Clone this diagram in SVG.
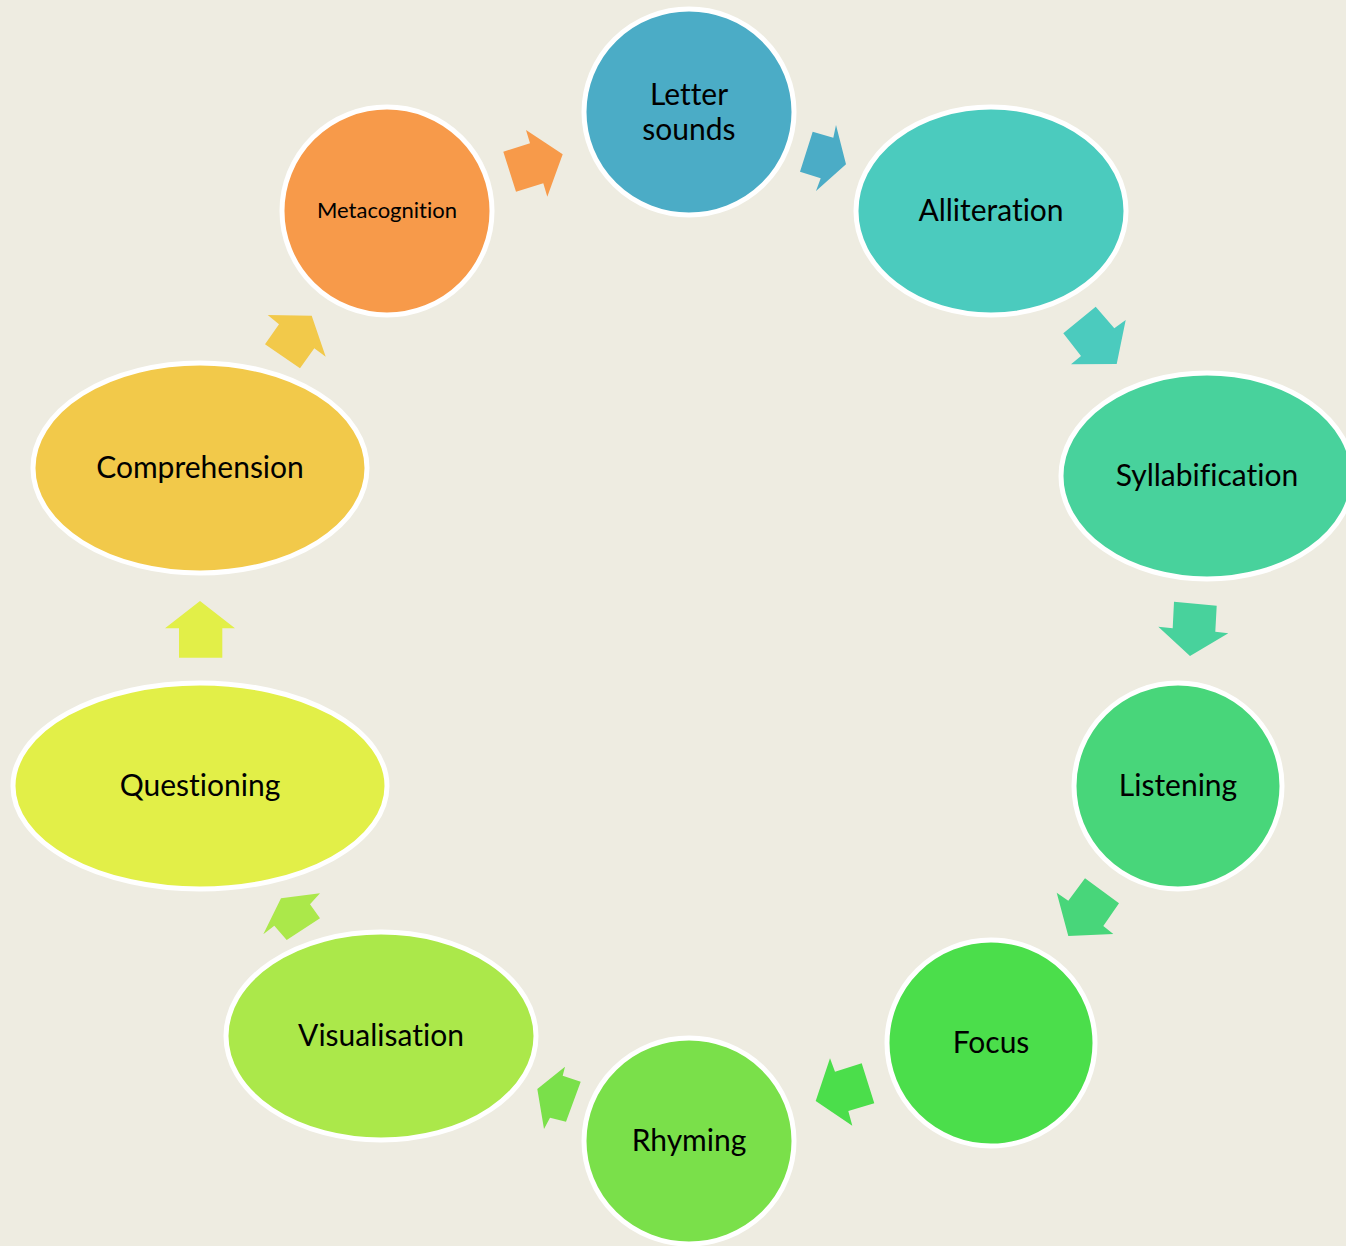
<svg xmlns="http://www.w3.org/2000/svg" width="1346" height="1246" viewBox="0 0 1346 1246">
  <style>
    .node { stroke: #ffffff; stroke-width: 5; }
    .label { font-family: Lato, "Liberation Sans", sans-serif; font-size: 30px; fill: #000000; text-anchor: middle; font-variant-ligatures: none; font-feature-settings: "liga" 0, "clig" 0; }
    .small { font-size: 22px; }
    .arrow { stroke: none; }
  </style>
  <rect x="0" y="0" width="1346" height="1246" fill="#EEECE1"/>

  <!-- cycle arrows between steps -->
  <g id="connectors">
    <polygon class="arrow" fill="#F79A4A" points="526,130 530,143.3 503.3,151.7 516,191.7 543.3,183.3 547.3,196.7 562.7,154.3"/>
    <polygon class="arrow" fill="#4BACC6" points="836,125 833.3,137.7 812.7,131.7 800,171.7 820.7,178.3 816,191 846,164.3"/>
    <polygon class="arrow" fill="#4BCBBE" points="1095.7,306.7 1114.3,328.3 1125.7,320 1116.7,364 1071,364.3 1081,356 1063.3,333.3"/>
    <polygon class="arrow" fill="#48D29C" points="1174,601.7 1216.7,605.7 1215.3,631.7 1228.3,633.3 1190,656 1158.3,626.7 1172.7,628.3"/>
    <polygon class="arrow" fill="#48D67A" points="1085,878.3 1119,903.3 1103.3,926 1113.3,934 1068.3,936 1056.7,892.7 1068.3,900.7"/>
    <polygon class="arrow" fill="#4BDE4B" points="830,1058.3 835,1071.7 861.7,1063.3 874.3,1103.3 848.3,1111 852.3,1125.7 815.7,1101"/>
    <polygon class="arrow" fill="#7AE04A" points="565,1066.7 562.7,1075.7 580.7,1081.7 566,1121.7 550,1117.7 544,1129 537.3,1089"/>
    <polygon class="arrow" fill="#ABE84A" points="320,893.3 310,904.3 320,918.3 286.7,940 274.3,925.7 263.3,934.3 281,898.3"/>
    <polygon class="arrow" fill="#E2EF48" points="200,601 235,628.3 222.3,628.3 222.3,657.7 179,657.7 179,628.3 165,628.3"/>
    <polygon class="arrow" fill="#F2C94A" points="267.7,315 311.7,315.7 325.7,356.7 314.3,348.3 300,368.3 265,344.3 279,324.3"/>
  </g>

  <g id="letter-sounds">
    <ellipse class="node" cx="689" cy="112" rx="105" ry="103" fill="#4BACC6"/>
    <text class="label" x="689" y="105">Letter</text>
    <text class="label" x="689" y="140">sounds</text>
  </g>
  <g id="alliteration">
    <ellipse class="node" cx="991" cy="211" rx="135" ry="104" fill="#4BCBBE"/>
    <text class="label" x="991" y="221">Alliteration</text>
  </g>
  <g id="syllabification">
    <ellipse class="node" cx="1207" cy="476" rx="146" ry="103" fill="#48D29C"/>
    <text class="label" x="1207" y="486">Syllabification</text>
  </g>
  <g id="listening">
    <ellipse class="node" cx="1178" cy="786" rx="104" ry="103" fill="#48D67A"/>
    <text class="label" x="1178" y="796">Listening</text>
  </g>
  <g id="focus">
    <ellipse class="node" cx="991" cy="1043" rx="104" ry="103" fill="#4BDE4B"/>
    <text class="label" x="991" y="1053">Focus</text>
  </g>
  <g id="rhyming">
    <ellipse class="node" cx="689" cy="1141" rx="105" ry="103" fill="#7AE04A"/>
    <text class="label" x="689" y="1151">Rhyming</text>
  </g>
  <g id="visualisation">
    <ellipse class="node" cx="381" cy="1036" rx="155" ry="104" fill="#ABE84A"/>
    <text class="label" x="381" y="1046">Visualisation</text>
  </g>
  <g id="questioning">
    <ellipse class="node" cx="200" cy="786" rx="187" ry="103" fill="#E2EF48"/>
    <text class="label" x="200" y="796">Questioning</text>
  </g>
  <g id="comprehension">
    <ellipse class="node" cx="200" cy="468" rx="167" ry="105" fill="#F2C94A"/>
    <text class="label" x="200" y="478">Comprehension</text>
  </g>
  <g id="metacognition">
    <ellipse class="node" cx="387" cy="211" rx="105" ry="104" fill="#F79A4A"/>
    <text class="label small" x="387" y="218">Metacognition</text>
  </g>
</svg>
